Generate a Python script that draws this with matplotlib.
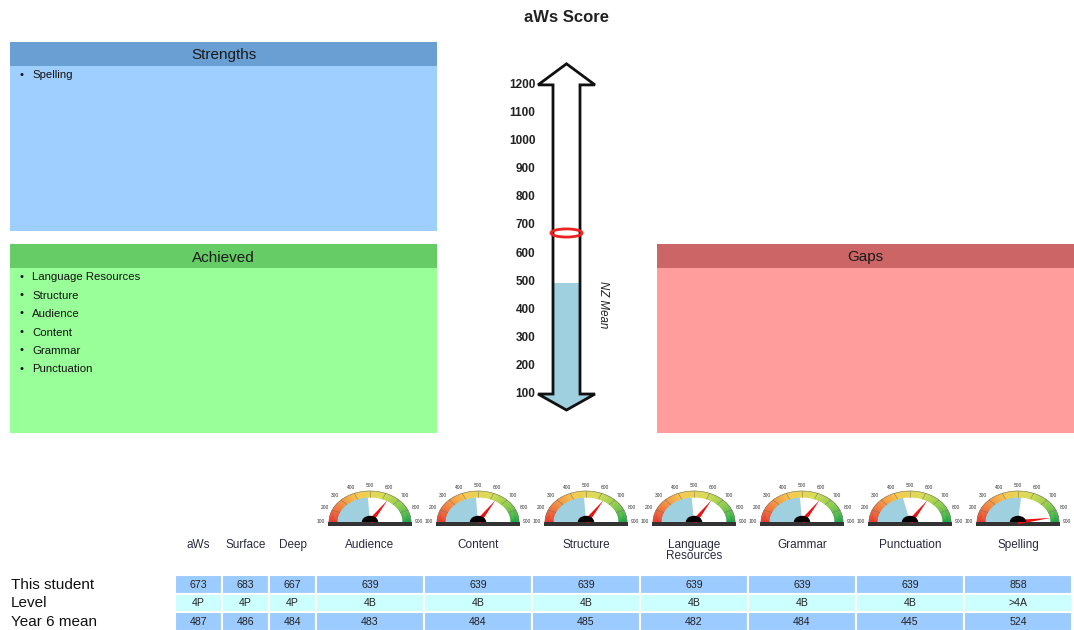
import numpy as np
import matplotlib.pyplot as plt
from matplotlib.patches import Rectangle, Polygon, Ellipse, Wedge
from matplotlib.colors import LinearSegmentedColormap

plt.rcParams['font.family'] = ['Liberation Sans', 'DejaVu Sans']

# ---- data ----
aws_ticks = [100, 200, 300, 400, 500, 600, 700, 800, 900, 1000, 1100, 1200]
student_aws = 673
nz_mean = 495

strengths = ['Spelling']
achieved = ['Language Resources', 'Structure', 'Audience', 'Content', 'Grammar', 'Punctuation']
gaps = []

col_labels = ['aWs', 'Surface', 'Deep', 'Audience', 'Content', 'Structure',
              'Language\nResources', 'Grammar', 'Punctuation', 'Spelling']
row_labels = ['This student', 'Level', 'Year 6 mean']
this_student = [673, 683, 667, 639, 639, 639, 639, 639, 639, 858]
levels = ['4P', '4P', '4P', '4B', '4B', '4B', '4B', '4B', '4B', '>4A']
year6_mean = [487, 486, 484, 483, 484, 485, 482, 484, 445, 524]

gauge_ticks = [100, 200, 300, 400, 500, 600, 700, 800, 900]

W, H = 1074, 630
fig = plt.figure(figsize=(W / 100, H / 100), dpi=100)
bg = fig.add_axes([0, 0, 1, 1])
bg.set_xlim(0, W)
bg.set_ylim(H, 0)
bg.axis('off')


def px_axes(x0, y0, x1, y1):
    return fig.add_axes([x0 / W, 1 - y1 / H, (x1 - x0) / W, (y1 - y0) / H])


def panel(x0, y0, x1, y1, title, items, head_col, body_col):
    bg.add_patch(Rectangle((x0, y0), x1 - x0, y1 - y0, fc=body_col, ec='none'))
    bg.add_patch(Rectangle((x0, y0), x1 - x0, 24, fc=head_col, ec='none'))
    bg.text((x0 + x1) / 2, y0 + 13.5, title, ha='center', va='center', fontsize=11, color='#1a1a1a')
    for i, it in enumerate(items):
        y = y0 + 33.5 + i * 18.4
        bg.text(x0 + 11, y - 1, '\u2022', ha='center', va='center', fontsize=8, color='#111111')
        bg.text(x0 + 22, y, it, ha='left', va='center', fontsize=8.2, color='#111111')


panel(10, 42, 437, 231, 'Strengths', strengths, '#6a9fd4', '#9ecfff')
panel(10, 244, 437, 433, 'Achieved', achieved, '#66cc66', '#99ff99')
panel(657, 244, 1074, 433, 'Gaps', gaps, '#cc6666', '#ff9c9c')

bg.text(566, 18, 'aWs Score', ha='center', va='center', fontsize=12, fontweight='bold', color='#222222')

# ---- thermometer (x in px, y in score units) ----
th = px_axes(500, 59.6, 620, 416.5)
th.set_xlim(500, 620)
th.set_ylim(20, 1290)
th.axis('off')
sl, sr, hl, hr, mid = 553, 580, 538, 595, 566.5
outline = [(sl, 100), (hl, 100), (mid, 43), (hr, 100), (sr, 100), (sr, 1200),
           (hr, 1200), (mid, 1275), (hl, 1200), (sl, 1200)]
th.add_patch(Polygon(outline, closed=True, fc='white', ec='none'))
fill = [(sl, nz_mean), (sl, 100), (hl, 100), (mid, 43), (hr, 100), (sr, 100), (sr, nz_mean)]
th.add_patch(Polygon(fill, closed=True, fc='#9ed0e0', ec='none'))
th.add_patch(Polygon(outline, closed=True, fc='none', ec='#111111', lw=2, joinstyle='miter'))
th.add_patch(Ellipse((mid, student_aws), 31, 29, fc='none', ec='#ee2222', lw=2))
for v in aws_ticks:
    th.text(535.5, v, str(v), ha='right', va='center', fontsize=8.5, fontweight='bold', color='#222222')
th.text(603, 418, 'NZ Mean', rotation=-90, style='italic', fontsize=8.3, ha='center', va='center',
        color='#222222')

# ---- table ----
widths = [47] * 3 + [108] * 7
edges = 175 + np.concatenate([[0], np.cumsum(widths)])
centers = (edges[:-1] + edges[1:]) / 2
row_top = [575, 593.5, 612]
row_h = 18.5
row_cols = ['#9ccbff', '#ccffff', '#9ccbff']
rows = [this_student, levels, year6_mean]
for r, vals in enumerate(rows):
    for c, v in enumerate(vals):
        bg.add_patch(Rectangle((edges[c], row_top[r]), widths[c], row_h,
                               fc=row_cols[r], ec='white', lw=1.5))
        bg.text(centers[c], row_top[r] + row_h / 2 + 0.5, str(v), ha='center', va='center',
                fontsize=7.6, color='#222222')
    bg.text(11, row_top[r] + row_h / 2 + 0.5, row_labels[r], ha='left', va='center', fontsize=11,
            color='#111111')
for c, lab in enumerate(col_labels):
    bg.text(centers[c], 539, lab, ha='center', va='top', fontsize=8.5, color='#2a2a40',
            linespacing=0.85)

# ---- gauges ----
band_cmap = LinearSegmentedColormap.from_list(
    'band', ['#e63b2a', '#f2843a', '#f5c948', '#d8dc50', '#8ccc48', '#22a845'])


def ang(v):
    return np.pi * (1 - (v - gauge_ticks[0]) / (gauge_ticks[-1] - gauge_ticks[0]))


rx, ry, cy = 41, 31, 522
for k in range(7):
    cx = centers[3 + k]
    g = px_axes(cx - 1.3 * rx, cy - 1.35 * ry, cx + 1.3 * rx, cy + 0.25 * ry)
    g.set_xlim(-1.3, 1.3)
    g.set_ylim(-0.25, 1.35)
    g.axis('off')
    r_in, r_out = 0.8, 1.0
    t = np.linspace(np.pi, 0, 200)
    g.fill(np.r_[0, r_in * np.cos(t), 0], np.r_[0, r_in * np.sin(t), 0], color='white', lw=0)
    tm = np.linspace(np.pi, ang(year6_mean[3 + k]), 100)
    g.fill(np.r_[0, r_in * np.cos(tm)], np.r_[0, r_in * np.sin(tm)], color='#9ed0e0', lw=0)
    n = 90
    seg = np.linspace(np.pi, 0, n + 1)
    for j in range(n):
        ts = np.linspace(seg[j], seg[j + 1], 4)
        xs = np.r_[r_out * np.cos(ts), r_in * np.cos(ts[::-1])]
        ys = np.r_[r_out * np.sin(ts), r_in * np.sin(ts[::-1])]
        g.fill(xs, ys, color=band_cmap(j / (n - 1)), lw=0.3, ec=band_cmap(j / (n - 1)))
    g.plot(r_out * np.cos(t), r_out * np.sin(t), color='#777777', lw=0.4)
    for v in gauge_ticks[1:-1]:
        a = ang(v)
        g.plot([r_in * np.cos(a), r_out * np.cos(a)], [r_in * np.sin(a), r_out * np.sin(a)],
               color='#666666', lw=0.4, alpha=0.7)
    for v in gauge_ticks:
        a = ang(v)
        g.text(1.2 * np.cos(a), 1.17 * np.sin(a) + 0.02, str(v), ha='center', va='center',
               fontsize=3.5, color='#333333')
    g.add_patch(Rectangle((-1.03, -0.12), 2.06, 0.12, fc='#333333', ec='none'))
    a = ang(this_student[3 + k])
    tip = (0.82 * np.cos(a), 0.82 * np.sin(a))
    p1 = (0.07 * np.cos(a + np.pi / 2), 0.07 * np.sin(a + np.pi / 2))
    p2 = (0.07 * np.cos(a - np.pi / 2), 0.07 * np.sin(a - np.pi / 2))
    g.add_patch(Polygon([tip, p1, p2], closed=True, fc='#ee1111', ec='none'))
    g.add_patch(Wedge((0, 0), 0.2, 0, 180, fc='black', ec='none'))

fig.savefig('out.png', dpi=100)
